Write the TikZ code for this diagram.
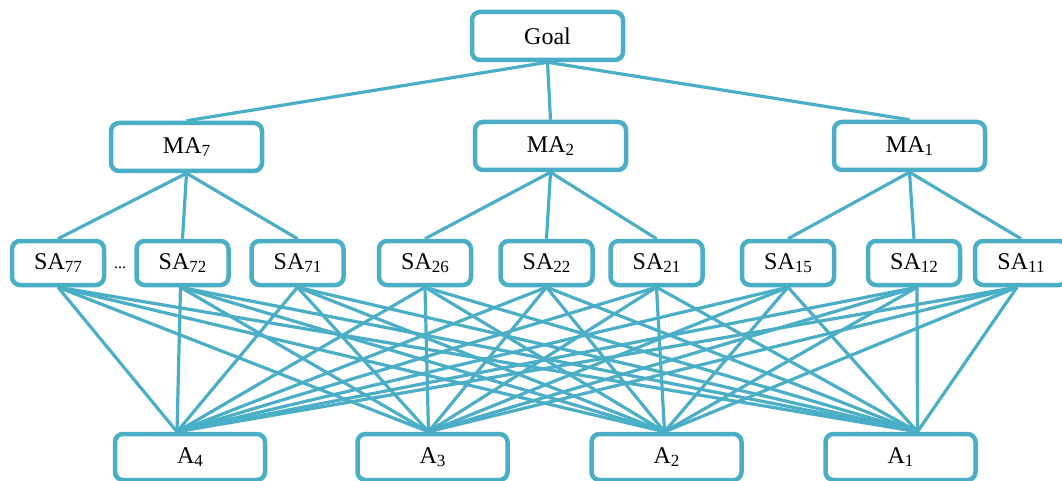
\documentclass[tikz,border=0pt]{standalone}
\usepackage{fontspec}
\setmainfont{Liberation Serif}
\definecolor{tealline}{RGB}{74,174,199}
\newcommand{\lab}[2]{#1\raisebox{-3pt}{\fontsize{17}{17}\selectfont #2}}
\begin{document}
\begin{tikzpicture}[x=1pt,y=-1pt,
  box/.style={draw=tealline, line width=4.5pt, rounded corners=8pt, fill=white,
              inner sep=0pt, font=\fontsize{24}{28}\selectfont},
  big/.style={box, minimum width=151pt, minimum height=48pt},
  sa/.style={box, minimum width=92pt, minimum height=44pt},
  alt/.style={box, minimum width=150pt, minimum height=46pt},
  link/.style={draw=tealline, line width=3.2pt}]
\useasboundingbox (0,0) rectangle (1062,481);
% top levels
\node[big] (Goal) at (547.5,36) {Goal};
\node[big] (MA7) at (186.5,147) {\lab{MA}{7}};
\node[big] (MA2) at (550.5,146) {\lab{MA}{2}};
\node[big] (MA1) at (909.5,146) {\lab{MA}{1}};
% sub-attributes
\node[sa] (SA77) at (58,263) {\lab{SA}{77}};
\node[sa] (SA72) at (182.5,263) {\lab{SA}{72}};
\node[sa] (SA71) at (297.5,263) {\lab{SA}{71}};
\node[sa] (SA26) at (425,263) {\lab{SA}{26}};
\node[sa] (SA22) at (546.5,263) {\lab{SA}{22}};
\node[sa] (SA21) at (656.5,263) {\lab{SA}{21}};
\node[sa] (SA15) at (788,263) {\lab{SA}{15}};
\node[sa] (SA12) at (914,263) {\lab{SA}{12}};
\node[sa] (SA11) at (1021,263) {\lab{SA}{11}};
\node[font=\fontsize{16}{16}\selectfont, inner sep=0pt] (dots) at (120,268) {...};
% alternatives
\node[alt] (A4) at (190,457) {\lab{A}{4}};
\node[alt] (A3) at (432.5,457) {\lab{A}{3}};
\node[alt] (A2) at (666.5,457) {\lab{A}{2}};
\node[alt] (A1) at (900.5,457) {\lab{A}{1}};
% connectors
\foreach \m in {MA7,MA2,MA1} \draw[link] (Goal.south) -- (\m.north);
\foreach \s in {SA77,SA72,SA71} \draw[link] (MA7.south) -- (\s.north);
\foreach \s in {SA26,SA22,SA21} \draw[link] (MA2.south) -- (\s.north);
\foreach \s in {SA15,SA12,SA11} \draw[link] (MA1.south) -- (\s.north);
\foreach \s/\sx in {SA77/0,SA72/-2,SA71/0,SA26/0,SA22/0,SA21/0,SA15/0,SA12/3,SA11/-4}
  \foreach \a/\ax in {A4/-13,A3/-4,A2/-2,A1/17}
    \draw[link] ([xshift=\sx pt]\s.south) -- ([xshift=\ax pt]\a.north);
\end{tikzpicture}
\end{document}
